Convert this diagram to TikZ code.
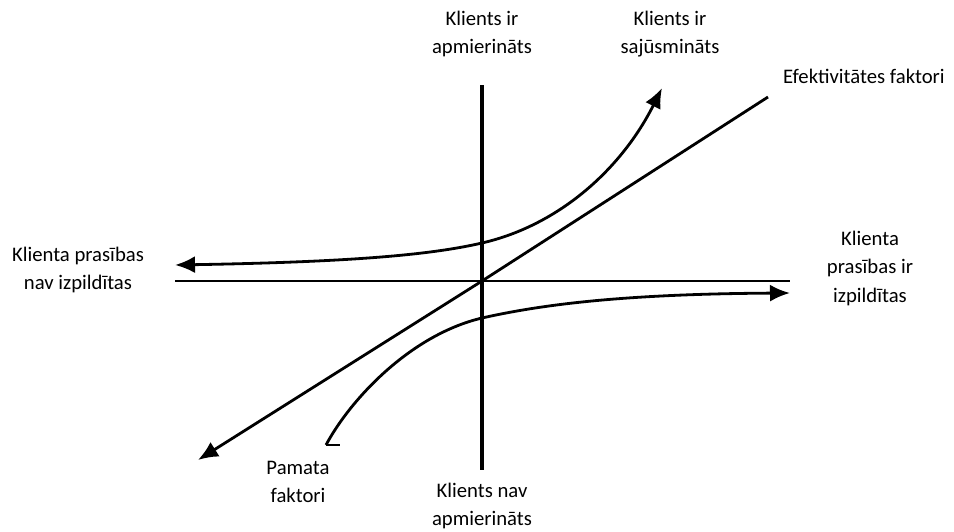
\documentclass[tikz,border=0pt]{standalone}
\usepackage{fontspec}
\setmainfont{Carlito}
\usetikzlibrary{arrows.meta}

\begin{document}
\begin{tikzpicture}[x=1pt,y=-1pt,
	lbl/.style={align=center,inner sep=0pt,font=\fontsize{20.7}{28.5}\selectfont},
	curve/.style={line width=2.8pt,line join=round},
	tip/.style={-{Latex[length=20pt,width=17pt]}}]
			\useasboundingbox (0,0) rectangle (954,531);
			% axes
			\coordinate (top) at (482,85);
			\coordinate (bottom) at (482,470);
			\coordinate (left) at (175,281);
			\coordinate (right) at (790,281);
			\coordinate (o) at (482,281);
			\draw[line width=3.2pt] (top) -- (bottom);
			\draw[line width=2.3pt] (left) -- (right);
			% curves
			\coordinate (d1) at (175,265);
			\coordinate (d2) at (482,243);
			\coordinate (d3) at (662,88);
			\coordinate (b1) at (326,445);
			\coordinate (b2) at (482,318);
			\coordinate (b3) at (790,293);
			\coordinate (p1) at (768,97);
			\coordinate (p2) at (198,460);
			\draw[curve,tip] (d2) .. controls (430,255) and (350,262) .. (d1);
			\draw[curve,tip] (d2) .. controls (560,225) and (622,168) .. (d3);
			\draw[curve] (b1) .. controls (350,400) and (410,335) .. (b2);
			\draw[curve,tip] (b2) .. controls (540,305) and (620,294) .. (b3);
			\draw[line width=2.3pt] (b1) -- ++(14,0);
			\draw[curve,tip] (p1) -- (o) -- (p2);
			% labels
			\node[lbl] (apm) at (482,34) {Klients ir\\apmierināts};
			\node[lbl] (saj) at (670,34) {Klients ir\\sajūsmināts};
			\node[lbl,anchor=west] (efe) at (783,76) {Efektivitātes faktori};
			\node[lbl] (nav) at (78,270) {Klienta prasības\\nav izpildītas};
			\node[lbl] (izp) at (870,268) {Klienta\\prasības ir\\izpildītas};
			\node[lbl] (pam) at (298,482) {Pamata\\faktori};
			\node[lbl] (neapm) at (482,506) {Klients nav\\apmierināts};
		\end{tikzpicture}
\end{document}
